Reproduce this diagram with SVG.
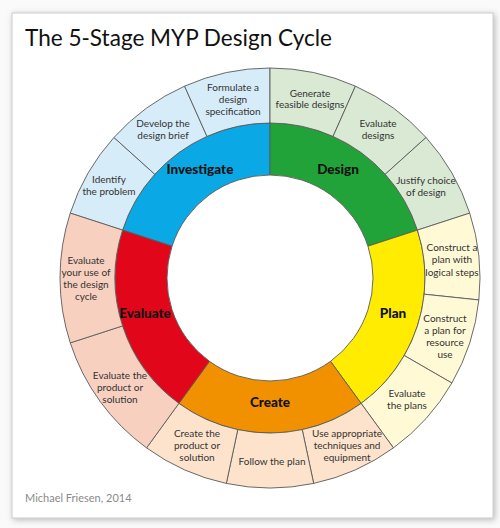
<svg xmlns="http://www.w3.org/2000/svg" width="500" height="528" viewBox="0 0 500 528">
<defs>
<filter id="shadow" x="-5%" y="-5%" width="110%" height="110%">
<feGaussianBlur stdDeviation="3"/>
</filter>
<style>
.seg{stroke:#5a5a5a;stroke-width:0.9;stroke-linejoin:round}
.sub{font-family:Lato,"Open Sans","DejaVu Sans",sans-serif;font-size:10px;fill:#333;text-anchor:middle}
.stage{font-family:Lato,"Liberation Sans",sans-serif;font-size:13.5px;font-weight:900;fill:#111;text-anchor:middle}
.inv-d{fill:#0aa9e6}.inv-l{fill:#d6ecf8}
.des-d{fill:#22a33a}.des-l{fill:#d9e9d3}
.pla-d{fill:#ffec00}.pla-l{fill:#fff9d6}
.cre-d{fill:#f19100}.cre-l{fill:#fde3cc}
.eva-d{fill:#e2061a}.eva-l{fill:#f8d0c0}
</style>
</defs>
<rect width="500" height="528" fill="#fafafa"/>
<rect x="13" y="14" width="482" height="506" fill="#b8b8b8" filter="url(#shadow)"/>
<rect x="12" y="13" width="481" height="505" fill="#fff" stroke="#d4d4d4" stroke-width="1.2"/>
<text x="25" y="46" font-family="Lato,'Open Sans',sans-serif" font-size="23.5" fill="#111" textLength="307" lengthAdjust="spacingAndGlyphs">The 5-Stage MYP Design Cycle</text>
<text x="25" y="502" font-family="Lato,'Open Sans',sans-serif" font-size="11" fill="#8a8a8a">Michael Friesen, 2014</text>

<g id="investigate">
<path class="seg inv-d" d="M122.59,230.10 A155,155 0 0 1 270,123 L270,175 A103,103 0 0 0 172.04,246.17 Z"/>
<g id="identify-problem">
<path class="seg inv-l" d="M122.59,230.10 L70.28,213.11 A210,210 0 0 1 113.94,137.48 L154.81,174.28 A155,155 0 0 0 122.59,230.10 Z"/>
<text class="sub" x="109" y="182.5">Identify</text>
<text class="sub" x="109" y="194.5">the problem</text>
</g>
<g id="develop-brief">
<path class="seg inv-l" d="M154.81,174.28 L113.94,137.48 A210,210 0 0 1 184.58,86.15 L206.96,136.40 A155,155 0 0 0 154.81,174.28 Z"/>
<text class="sub" x="163" y="126.5">Develop the</text>
<text class="sub" x="163" y="138.5">design brief</text>
</g>
<g id="formulate-spec">
<path class="seg inv-l" d="M206.96,136.40 L184.58,86.15 A210,210 0 0 1 270,68 L270,123 A155,155 0 0 0 206.96,136.40 Z"/>
<text class="sub" x="233" y="90.5">Formulate a</text>
<text class="sub" x="233" y="102.5">design</text>
<text class="sub" x="233" y="114.5">specification</text>
</g>
<text class="stage" x="200" y="174">Investigate</text>
</g>

<g id="design">
<path class="seg des-d" d="M270,123 A155,155 0 0 1 417.41,230.10 L367.96,246.17 A103,103 0 0 0 270,175 Z"/>
<g id="generate-designs">
<path class="seg des-l" d="M270,123 L270,68 A210,210 0 0 1 355.42,86.15 L333.04,136.40 A155,155 0 0 0 270,123 Z"/>
<text class="sub" x="310" y="96.5">Generate</text>
<text class="sub" x="310" y="108">feasible designs</text>
</g>
<g id="evaluate-designs">
<path class="seg des-l" d="M333.04,136.40 L355.42,86.15 A210,210 0 0 1 426.06,137.48 L385.19,174.28 A155,155 0 0 0 333.04,136.40 Z"/>
<text class="sub" x="378" y="126.5">Evaluate</text>
<text class="sub" x="378" y="138.5">designs</text>
</g>
<g id="justify-choice">
<path class="seg des-l" d="M385.19,174.28 L426.06,137.48 A210,210 0 0 1 469.72,213.11 L417.41,230.10 A155,155 0 0 0 385.19,174.28 Z"/>
<text class="sub" x="426" y="183.5">Justify choice</text>
<text class="sub" x="426" y="196">of design</text>
</g>
<text class="stage" x="338" y="174">Design</text>
</g>

<g id="plan">
<path class="seg pla-d" d="M417.41,230.10 A155,155 0 0 1 361.11,403.40 L330.54,361.33 A103,103 0 0 0 367.96,246.17 Z"/>
<g id="plan-logical-steps">
<path class="seg pla-l" d="M417.41,230.10 L469.72,213.11 A210,210 0 0 1 478.85,299.95 L424.15,294.20 A155,155 0 0 0 417.41,230.10 Z"/>
<text class="sub" x="452" y="250.5">Construct a</text>
<text class="sub" x="452" y="263">plan with</text>
<text class="sub" x="452" y="275.5">logical steps</text>
</g>
<g id="plan-resource-use">
<path class="seg pla-l" d="M424.15,294.20 L478.85,299.95 A210,210 0 0 1 451.87,383 L404.23,355.5 A155,155 0 0 0 424.15,294.20 Z"/>
<text class="sub" x="445" y="321.5">Construct</text>
<text class="sub" x="445" y="333.5">a plan for</text>
<text class="sub" x="445" y="345.5">resource</text>
<text class="sub" x="445" y="357.5">use</text>
</g>
<g id="evaluate-plans">
<path class="seg pla-l" d="M404.23,355.5 L451.87,383 A210,210 0 0 1 393.44,447.89 L361.11,403.40 A155,155 0 0 0 404.23,355.5 Z"/>
<text class="sub" x="407" y="396.5">Evaluate</text>
<text class="sub" x="407" y="408.5">the plans</text>
</g>
<text class="stage" x="393" y="318">Plan</text>
</g>

<g id="create">
<path class="seg cre-d" d="M361.11,403.40 A155,155 0 0 1 178.89,403.40 L209.46,361.33 A103,103 0 0 0 330.54,361.33 Z"/>
<g id="use-techniques">
<path class="seg cre-l" d="M361.11,403.40 L393.44,447.89 A210,210 0 0 1 313.66,483.41 L302.23,429.61 A155,155 0 0 0 361.11,403.40 Z"/>
<text class="sub" x="347" y="436.5">Use appropriate</text>
<text class="sub" x="347" y="448.5">techniques and</text>
<text class="sub" x="347" y="460.5">equipment</text>
</g>
<g id="follow-plan">
<path class="seg cre-l" d="M302.23,429.61 L313.66,483.41 A210,210 0 0 1 226.34,483.41 L237.77,429.61 A155,155 0 0 0 302.23,429.61 Z"/>
<text class="sub" x="272" y="464.5">Follow the plan</text>
</g>
<g id="create-product">
<path class="seg cre-l" d="M237.77,429.61 L226.34,483.41 A210,210 0 0 1 146.56,447.89 L178.89,403.40 A155,155 0 0 0 237.77,429.61 Z"/>
<text class="sub" x="197" y="436.5">Create the</text>
<text class="sub" x="197" y="448.5">product or</text>
<text class="sub" x="197" y="460.5">solution</text>
</g>
<text class="stage" x="270" y="407">Create</text>
</g>

<g id="evaluate">
<path class="seg eva-d" d="M178.89,403.40 A155,155 0 0 1 122.59,230.10 L172.04,246.17 A103,103 0 0 0 209.46,361.33 Z"/>
<g id="evaluate-product">
<path class="seg eva-l" d="M178.89,403.40 L146.56,447.89 A210,210 0 0 1 70.28,342.89 L122.59,325.90 A155,155 0 0 0 178.89,403.40 Z"/>
<text class="sub" x="120" y="378.5">Evaluate the</text>
<text class="sub" x="120" y="390.5">product or</text>
<text class="sub" x="120" y="402.5">solution</text>
</g>
<g id="evaluate-cycle">
<path class="seg eva-l" d="M122.59,325.90 L70.28,342.89 A210,210 0 0 1 70.28,213.11 L122.59,230.10 A155,155 0 0 0 122.59,325.90 Z"/>
<text class="sub" x="86" y="263.5">Evaluate</text>
<text class="sub" x="86" y="275.5">your use of</text>
<text class="sub" x="86" y="287.5">the design</text>
<text class="sub" x="86" y="299.5">cycle</text>
</g>
<text class="stage" x="145" y="318">Evaluate</text>
</g>

<g id="connectors"></g>
</svg>
